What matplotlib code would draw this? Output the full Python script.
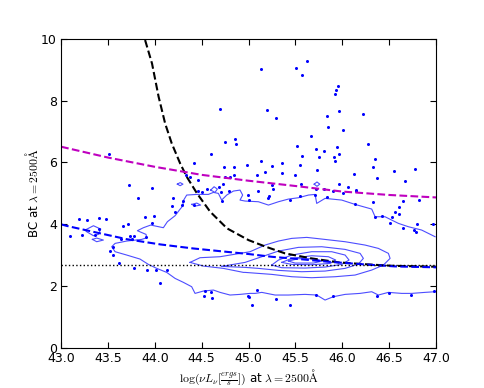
import numpy as np
import matplotlib
matplotlib.use("Agg")
import matplotlib.pyplot as plt

plt.rcParams['mathtext.fontset'] = 'cm'
plt.rcParams['xtick.direction'] = 'in'
plt.rcParams['ytick.direction'] = 'in'

# tocke (log nuLnu, BC)
pts_x = [43.515, 43.725, 43.97, 44.42, 44.37, 44.46, 44.60, 44.70, 44.75, 44.86, 44.87, 44.74, 44.84,
         44.98, 44.75, 44.80, 44.84, 44.73, 44.68, 44.56, 44.33,
         45.13, 45.51, 45.62, 45.57, 45.95, 45.93, 45.92, 45.20, 45.29, 45.96, 46.22, 45.84, 45.85, 46.01,
         45.67, 46.27, 45.52, 45.72, 45.80, 45.94, 45.97, 45.57, 45.75, 45.91, 45.92, 46.35, 46.33, 46.37,
         46.55, 46.78, 46.67, 45.13, 45.25, 45.36, 45.09, 45.18, 45.36, 45.50, 45.55, 45.73, 46.12, 45.56,
         45.97, 46.06, 46.15, 45.25, 45.26,
         45.10, 44.99, 45.22, 45.21, 45.44, 45.55, 45.71, 45.72, 45.84, 45.80, 45.90, 46.01, 46.15, 46.14,
         46.33, 46.65, 46.82, 46.61, 46.56, 46.61, 46.35, 46.42, 46.53, 46.51, 46.65, 46.76, 46.79, 46.80, 46.97,
         45.09, 44.99, 45.04, 45.29, 45.44, 45.72, 45.90, 46.37, 46.50, 46.73, 46.98,
         43.82, 44.19, 44.18, 44.22, 44.29, 44.30, 44.42, 44.46, 44.50, 44.71, 44.72, 44.79, 45.00,
         43.89, 43.99, 43.97, 43.66, 43.71, 43.19, 43.28, 43.40, 43.48, 43.09, 43.22, 43.36, 43.40,
         43.74, 43.78, 43.64, 43.76, 43.91, 43.55, 43.52, 43.55, 43.62, 43.78, 43.92, 44.01, 44.13,
         44.06, 44.54, 44.60, 44.52, 44.61, 45.00]
pts_y = [6.29, 5.27, 5.18, 5.99, 5.52, 5.42, 6.29, 7.72, 6.65, 6.77, 6.60, 5.84, 5.84,
         5.91, 5.54, 5.52, 5.60, 5.32, 5.22, 5.13, 5.60,
         9.03, 9.07, 9.28, 8.82, 8.46, 8.34, 8.20, 7.69, 7.44, 7.67, 7.57, 7.49, 7.15, 7.06,
         6.87, 6.59, 6.53, 6.43, 6.36, 6.50, 6.27, 6.22, 6.17, 6.17, 6.04, 6.10, 5.87, 5.51,
         5.73, 5.78, 5.39, 6.04, 5.89, 5.99, 5.61, 5.68, 5.65, 5.59, 5.91, 5.75, 5.63, 5.29,
         5.31, 5.22, 5.12, 5.28, 5.13,
         5.09, 4.96, 4.92, 4.84, 4.78, 4.91, 4.95, 5.13, 4.89, 5.14, 5.09, 5.00, 5.09, 4.65,
         4.73, 4.77, 4.78, 4.56, 4.41, 4.32, 4.23, 4.27, 4.23, 4.05, 3.89, 3.82, 3.76, 4.02, 4.00,
         1.87, 1.68, 1.38, 1.58, 1.38, 1.71, 1.68, 1.68, 1.79, 1.70, 1.84,
         4.84, 4.84, 4.60, 4.39, 4.62, 4.75, 4.62, 5.08, 5.03, 5.03, 4.76, 5.08, 4.78,
         4.25, 4.28, 4.05, 3.95, 4.00, 4.17, 4.14, 4.19, 4.18, 3.61, 3.65, 3.65, 3.85,
         3.63, 3.63, 3.52, 3.52, 3.58, 3.27, 3.15, 3.00, 2.76, 2.59, 2.52, 2.51, 2.53,
         2.11, 1.84, 1.82, 1.67, 1.63, 1.66]

# krivulje
crna_x = [43.896, 43.97, 44.04, 44.11, 44.18, 44.27, 44.34, 44.45, 44.59, 44.77, 45.00, 45.18, 45.39,
          45.67, 45.96, 46.24, 46.53, 47.0]
crna_y = [9.96, 9.20, 8.13, 7.26, 6.62, 5.97, 5.54, 5.00, 4.41, 3.87, 3.49, 3.28, 3.06,
          2.90, 2.77, 2.71, 2.66, 2.63]

mag_x = [43.0, 43.5, 44.0, 44.5, 45.0, 45.5, 46.0, 46.5, 47.0]
mag_y = [6.51, 6.16, 5.86, 5.60, 5.41, 5.24, 5.06, 4.95, 4.87]

plava_x = [43.0, 43.06, 43.34, 43.70, 44.06, 44.41, 44.77, 45.0, 45.25, 45.53, 45.85, 46.21, 46.56, 47.0]
plava_y = [4.0, 3.95, 3.76, 3.52, 3.35, 3.22, 3.11, 3.04, 2.95, 2.88, 2.79, 2.71, 2.64, 2.61]

bc_const = 2.67

# konture (ocitane s grafa)
k1_x = [46.990, 46.847, 46.705, 46.599, 46.527, 46.456, 46.350, 46.314, 46.136, 45.994, 45.816, 45.727,
        45.710, 45.639, 45.532, 45.425, 45.319, 45.212, 45.105, 44.963, 44.909, 44.937, 44.909, 44.838,
        44.767, 44.713, 44.678, 44.625, 44.571, 44.447, 44.340, 44.297, 44.305, 44.262, 44.216, 44.134,
        44.091, 43.956, 43.878, 43.814, 43.906, 43.913, 43.860, 43.700, 43.576, 43.540,
        43.576, 43.700, 43.842, 43.931, 44.020, 44.127, 44.216, 44.305, 44.393, 44.429, 44.518, 44.625,
        44.696, 44.802, 44.909, 45.016, 45.070, 45.141, 45.283, 45.425, 45.603, 45.727, 45.816, 45.905,
        46.030, 46.190, 46.314, 46.385, 46.492, 46.634, 46.741, 46.883, 46.990]
k1_y = [3.600, 3.815, 3.923, 4.031, 4.138, 4.246, 4.246, 4.494, 4.645, 4.785, 4.839, 4.677,
        4.968, 4.947, 4.860, 4.817, 4.731, 4.623, 4.731, 4.753, 4.785, 4.947, 5.108, 5.076,
        4.947, 4.785, 5.001, 5.033, 4.968, 4.968, 4.947, 4.731, 4.623, 4.462, 4.279, 4.085,
        3.891, 3.977, 3.891, 3.794, 3.675, 3.567, 3.513, 3.460, 3.384, 3.276,
        3.115, 3.007, 2.877, 2.705, 2.576, 2.446, 2.252, 2.123, 1.983, 1.767, 1.843, 1.875,
        1.800, 1.714, 1.735, 1.767, 1.767, 1.800, 1.714, 1.714, 1.735, 1.714, 1.552, 1.660,
        1.735, 1.767, 1.821, 1.714, 1.800, 1.767, 1.767, 1.800, 1.821]

k2_x = [44.376, 44.482, 44.696, 44.909, 45.016, 45.176, 45.319, 45.461, 45.621, 45.781, 46.030, 46.243,
        46.385, 46.492, 46.510, 46.439, 46.314, 46.136, 45.923, 45.674, 45.461, 45.247, 44.963, 44.945,
        44.731, 44.518, 44.376]
k2_y = [2.770, 2.921, 2.953, 3.061, 3.115, 3.330, 3.460, 3.546, 3.578, 3.524, 3.438, 3.330,
        3.222, 3.061, 2.899, 2.684, 2.522, 2.360, 2.306, 2.274, 2.306, 2.382, 2.446, 2.446,
        2.576, 2.651, 2.770]

k3_x = [44.713, 44.963, 45.141, 45.319, 45.532, 45.781, 46.030, 46.190, 46.225, 46.172, 46.030, 45.816,
        45.567, 45.319, 45.105, 44.963, 44.713]
k3_y = [2.640, 2.770, 2.953, 3.136, 3.255, 3.276, 3.190, 3.061, 2.899, 2.716, 2.576, 2.489,
        2.468, 2.511, 2.576, 2.608, 2.640]

k4_x = [45.247, 45.319, 45.461, 45.674, 45.887, 46.030, 46.072, 45.994, 45.816, 45.603, 45.354, 45.247]
k4_y = [2.683, 2.845, 3.007, 3.115, 3.115, 3.007, 2.845, 2.705, 2.619, 2.587, 2.597, 2.683]

k5_x = [45.354, 45.461, 45.674, 45.852, 45.930, 45.870, 45.674, 45.461, 45.354]
k5_y = [2.770, 2.899, 2.985, 2.953, 2.845, 2.737, 2.694, 2.705, 2.770]

k6_x = [45.425, 45.532, 45.710, 45.788, 45.692, 45.496, 45.425]
k6_y = [2.813, 2.888, 2.888, 2.813, 2.748, 2.748, 2.813]

# male otocne konture
otok1_x = [43.256, 43.345, 43.423, 43.398, 43.345, 43.273, 43.256]
otok1_y = [3.815, 3.955, 3.847, 3.675, 3.632, 3.761, 3.815]
otok2_x = [43.334, 43.380, 43.451, 43.380, 43.334]
otok2_y = [3.513, 3.556, 3.492, 3.438, 3.513]
otok3_x = [44.393, 44.447, 44.489, 44.429, 44.393]
otok3_y = [4.645, 4.688, 4.623, 4.591, 4.645]
otok4_x = [44.596, 44.632, 44.667, 44.642, 44.596]
otok4_y = [5.108, 5.216, 5.141, 5.033, 5.108]
otok5_x = [44.24, 44.27, 44.30, 44.27, 44.24]
otok5_y = [5.30, 5.35, 5.30, 5.25, 5.30]
otok6_x = [45.70, 45.73, 45.76, 45.73, 45.70]
otok6_y = [5.30, 5.37, 5.30, 5.23, 5.30]

konture = [(k1_x, k1_y), (k2_x, k2_y), (k3_x, k3_y), (k4_x, k4_y), (k5_x, k5_y), (k6_x, k6_y),
           (otok1_x, otok1_y), (otok2_x, otok2_y), (otok3_x, otok3_y), (otok4_x, otok4_y),
           (otok5_x, otok5_y), (otok6_x, otok6_y)]

fig = plt.figure(figsize=(4.85, 3.88), dpi=100)
ax = fig.add_axes([0.126, 0.103, 0.773, 0.797])

for kx, ky in konture:
    ax.plot(kx, ky, color="#4d4dff", linewidth=0.8)

ax.plot(pts_x, pts_y, "o", color="blue", markersize=2.2, markeredgewidth=0)
ax.plot(crna_x, crna_y, "k--", linewidth=1.5)
ax.plot(mag_x, mag_y, "--", color="m", linewidth=1.5)
ax.plot(plava_x, plava_y, "--", color="blue", linewidth=1.5)
ax.axhline(bc_const, color="k", linestyle=":", linewidth=1.0)

ax.set_xlim(43.0, 47.0)
ax.set_ylim(0, 10)
ax.set_xticks(np.arange(43.0, 47.01, 0.5))
ax.set_xticklabels(["%.1f" % v for v in np.arange(43.0, 47.01, 0.5)])
ax.set_yticks([0, 2, 4, 6, 8, 10])
ax.tick_params(top=True, right=True, labelsize=9, length=4, pad=3)
ax.set_xlabel(r"$\log(\nu L_\nu[\frac{ergs}{s}])$ at $\lambda=2500\mathrm{\AA}$", fontsize=8.5)
ax.set_ylabel(r"BC at $\lambda=2500\mathrm{\AA}$", fontsize=8.5)
ax.xaxis.set_label_coords(0.5, -0.062)
ax.yaxis.set_label_coords(-0.075, 0.5)
ax.xaxis.label.set_verticalalignment("top")
ax.yaxis.label.set_verticalalignment("center")

fig.savefig("out.png", dpi=100)
